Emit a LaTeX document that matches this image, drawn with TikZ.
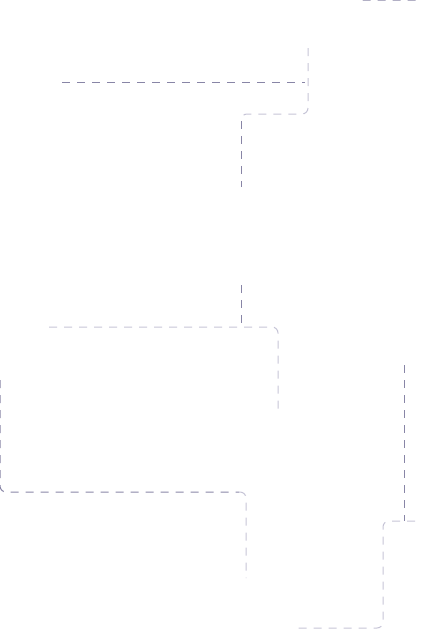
\documentclass[tikz,border=0pt]{standalone}
\usepackage{xcolor}
\definecolor{linkdark}{RGB}{136,133,166}
\definecolor{linklight}{RGB}{198,196,214}

\begin{document}
	\begin{tikzpicture}[x=1pt,y=-1pt,
		linkd/.style={draw=linkdark,line width=1pt,dash pattern=on 8pt off 7pt,rounded corners=6pt},
		linkl/.style={draw=linklight,line width=1pt,dash pattern=on 8pt off 7pt,rounded corners=6pt}]
		\useasboundingbox (0,0) rectangle (422,629);
		\clip (0,0) rectangle (422,629);
		\coordinate (T1) at (357,-12);
		\coordinate (T2) at (357,0);
		\coordinate (T3) at (430,0);
		\coordinate (A1) at (62,82);
		\coordinate (A2) at (305,82);
		\coordinate (B1) at (308,48);
		\coordinate (B2) at (308,114);
		\coordinate (B3) at (241,114);
		\coordinate (B4) at (241,121);
		\coordinate (B5) at (241,187);
		\coordinate (C1) at (241,285);
		\coordinate (C2) at (241,327);
		\coordinate (D1) at (49,327);
		\coordinate (D2) at (278,327);
		\coordinate (D3) at (278,413);
		\coordinate (E1) at (0,380);
		\coordinate (E2) at (0,492);
		\coordinate (E3) at (239,492);
		\coordinate (E4) at (246,492);
		\coordinate (E5) at (246,578);
		\coordinate (F1) at (404,365);
		\coordinate (F2) at (404,521);
		\coordinate (G1) at (430,521);
		\coordinate (G2) at (383,521);
		\coordinate (G3) at (383,628);
		\coordinate (G4) at (296,628);
		\draw[linkd] (T1) -- (T2) -- (T3);
		\draw[linkd] (A1) -- (A2);
		\draw[linkl] (B1) -- (B2) -- (B3) -- (B4);
		\draw[linkd] (B4) -- (B5);
		\draw[linkd] (C1) -- (C2);
		\draw[linkl] (D1) -- (D2) -- (D3);
		\draw[linkd] (E1) -- (E2) -- (E3);
		\draw[linkl] (E3) -- (E4) -- (E5);
		\draw[linkd] (F1) -- (F2);
		\draw[linkl] (G1) -- (G2) -- (G3) -- (G4);
	\end{tikzpicture}
\end{document}
